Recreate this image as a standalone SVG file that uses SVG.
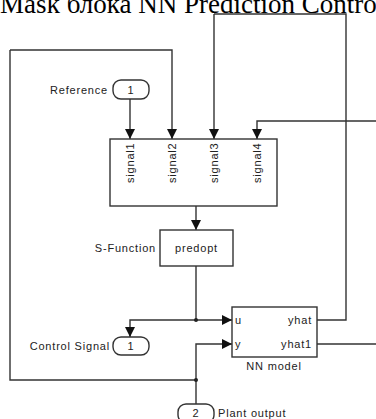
<svg xmlns="http://www.w3.org/2000/svg" width="376" height="419" viewBox="0 0 376 419">
<style>
.ln{fill:none;stroke:#333;stroke-width:1.4}
.blk{fill:#fff;stroke:#333;stroke-width:1.4}
.port{fill:#fff;stroke:#333;stroke-width:1.4}
.lbl{font-family:"Liberation Sans",Arial,sans-serif;font-size:11px;fill:#222;letter-spacing:0.8px}
.ttl{font-family:"Liberation Serif","Times New Roman",serif;font-size:27px;fill:#000}
.dot{fill:#222}
</style>
<defs>
<marker id="ah" viewBox="0 0 10 10" refX="10" refY="5" markerWidth="10" markerHeight="10" markerUnits="userSpaceOnUse" orient="auto">
<path d="M0,0 L10,5 L0,10 Z" fill="#111"/>
</marker>
</defs>
<text class="ttl" x="0" y="13">Mask блока NN Prediction Control</text>
<g id="connectors">
<path class="ln" d="M10,50 L10,380 L196,380"/>
<path class="ln" d="M10,50 L172,50 L172,139" marker-end="url(#ah)"/>
<path class="ln" d="M130,99 L130,139" marker-end="url(#ah)"/>
<path class="ln" d="M214,14 L346,14 L346,320 L317,320"/>
<path class="ln" d="M214,14 L214,139" marker-end="url(#ah)"/>
<path class="ln" d="M376,121 L257,121 L257,139" marker-end="url(#ah)"/>
<path class="ln" d="M317,344 L376,344"/>
<path class="ln" d="M196,206 L196,230" marker-end="url(#ah)"/>
<path class="ln" d="M196,266 L196,320 L232,320" marker-end="url(#ah)"/>
<path class="ln" d="M196,320 L130,320 L130,337" marker-end="url(#ah)"/>
<path class="ln" d="M196,404 L196,344 L232,344" marker-end="url(#ah)"/>
<circle class="dot" cx="196" cy="320" r="2"/>
<circle class="dot" cx="196" cy="380" r="2"/>
</g>
<g id="reference">
<rect class="port" x="113" y="80" width="36" height="19" rx="8"/>
<text class="lbl" x="131" y="93.5" text-anchor="middle">1</text>
<text class="lbl" x="108" y="93.5" text-anchor="end">Reference</text>
</g>
<g id="signals">
<rect class="blk" x="110" y="139" width="167" height="67"/>
<text class="lbl" transform="translate(134,183) rotate(-90)">signal1</text>
<text class="lbl" transform="translate(176,183) rotate(-90)">signal2</text>
<text class="lbl" transform="translate(218,183) rotate(-90)">signal3</text>
<text class="lbl" transform="translate(261,183) rotate(-90)">signal4</text>
</g>
<g id="predopt">
<rect class="blk" x="160" y="230" width="73" height="36"/>
<text class="lbl" x="196.5" y="252" text-anchor="middle">predopt</text>
<text class="lbl" x="156" y="252" text-anchor="end">S-Function</text>
</g>
<g id="nnmodel">
<rect class="blk" x="232" y="307" width="85" height="50"/>
<text class="lbl" x="235" y="324">u</text>
<text class="lbl" x="235" y="348">y</text>
<text class="lbl" x="312" y="324" text-anchor="end">yhat</text>
<text class="lbl" x="312" y="348" text-anchor="end">yhat1</text>
<text class="lbl" x="274" y="370" text-anchor="middle">NN model</text>
</g>
<g id="control-signal">
<rect class="port" x="113" y="337" width="36" height="18" rx="8"/>
<text class="lbl" x="131" y="350" text-anchor="middle">1</text>
<text class="lbl" x="110" y="350" text-anchor="end">Control Signal</text>
</g>
<g id="plant-output">
<rect class="port" x="178" y="404" width="36" height="19" rx="8"/>
<text class="lbl" x="196" y="417" text-anchor="middle">2</text>
<text class="lbl" x="218" y="417">Plant output</text>
</g>
</svg>
